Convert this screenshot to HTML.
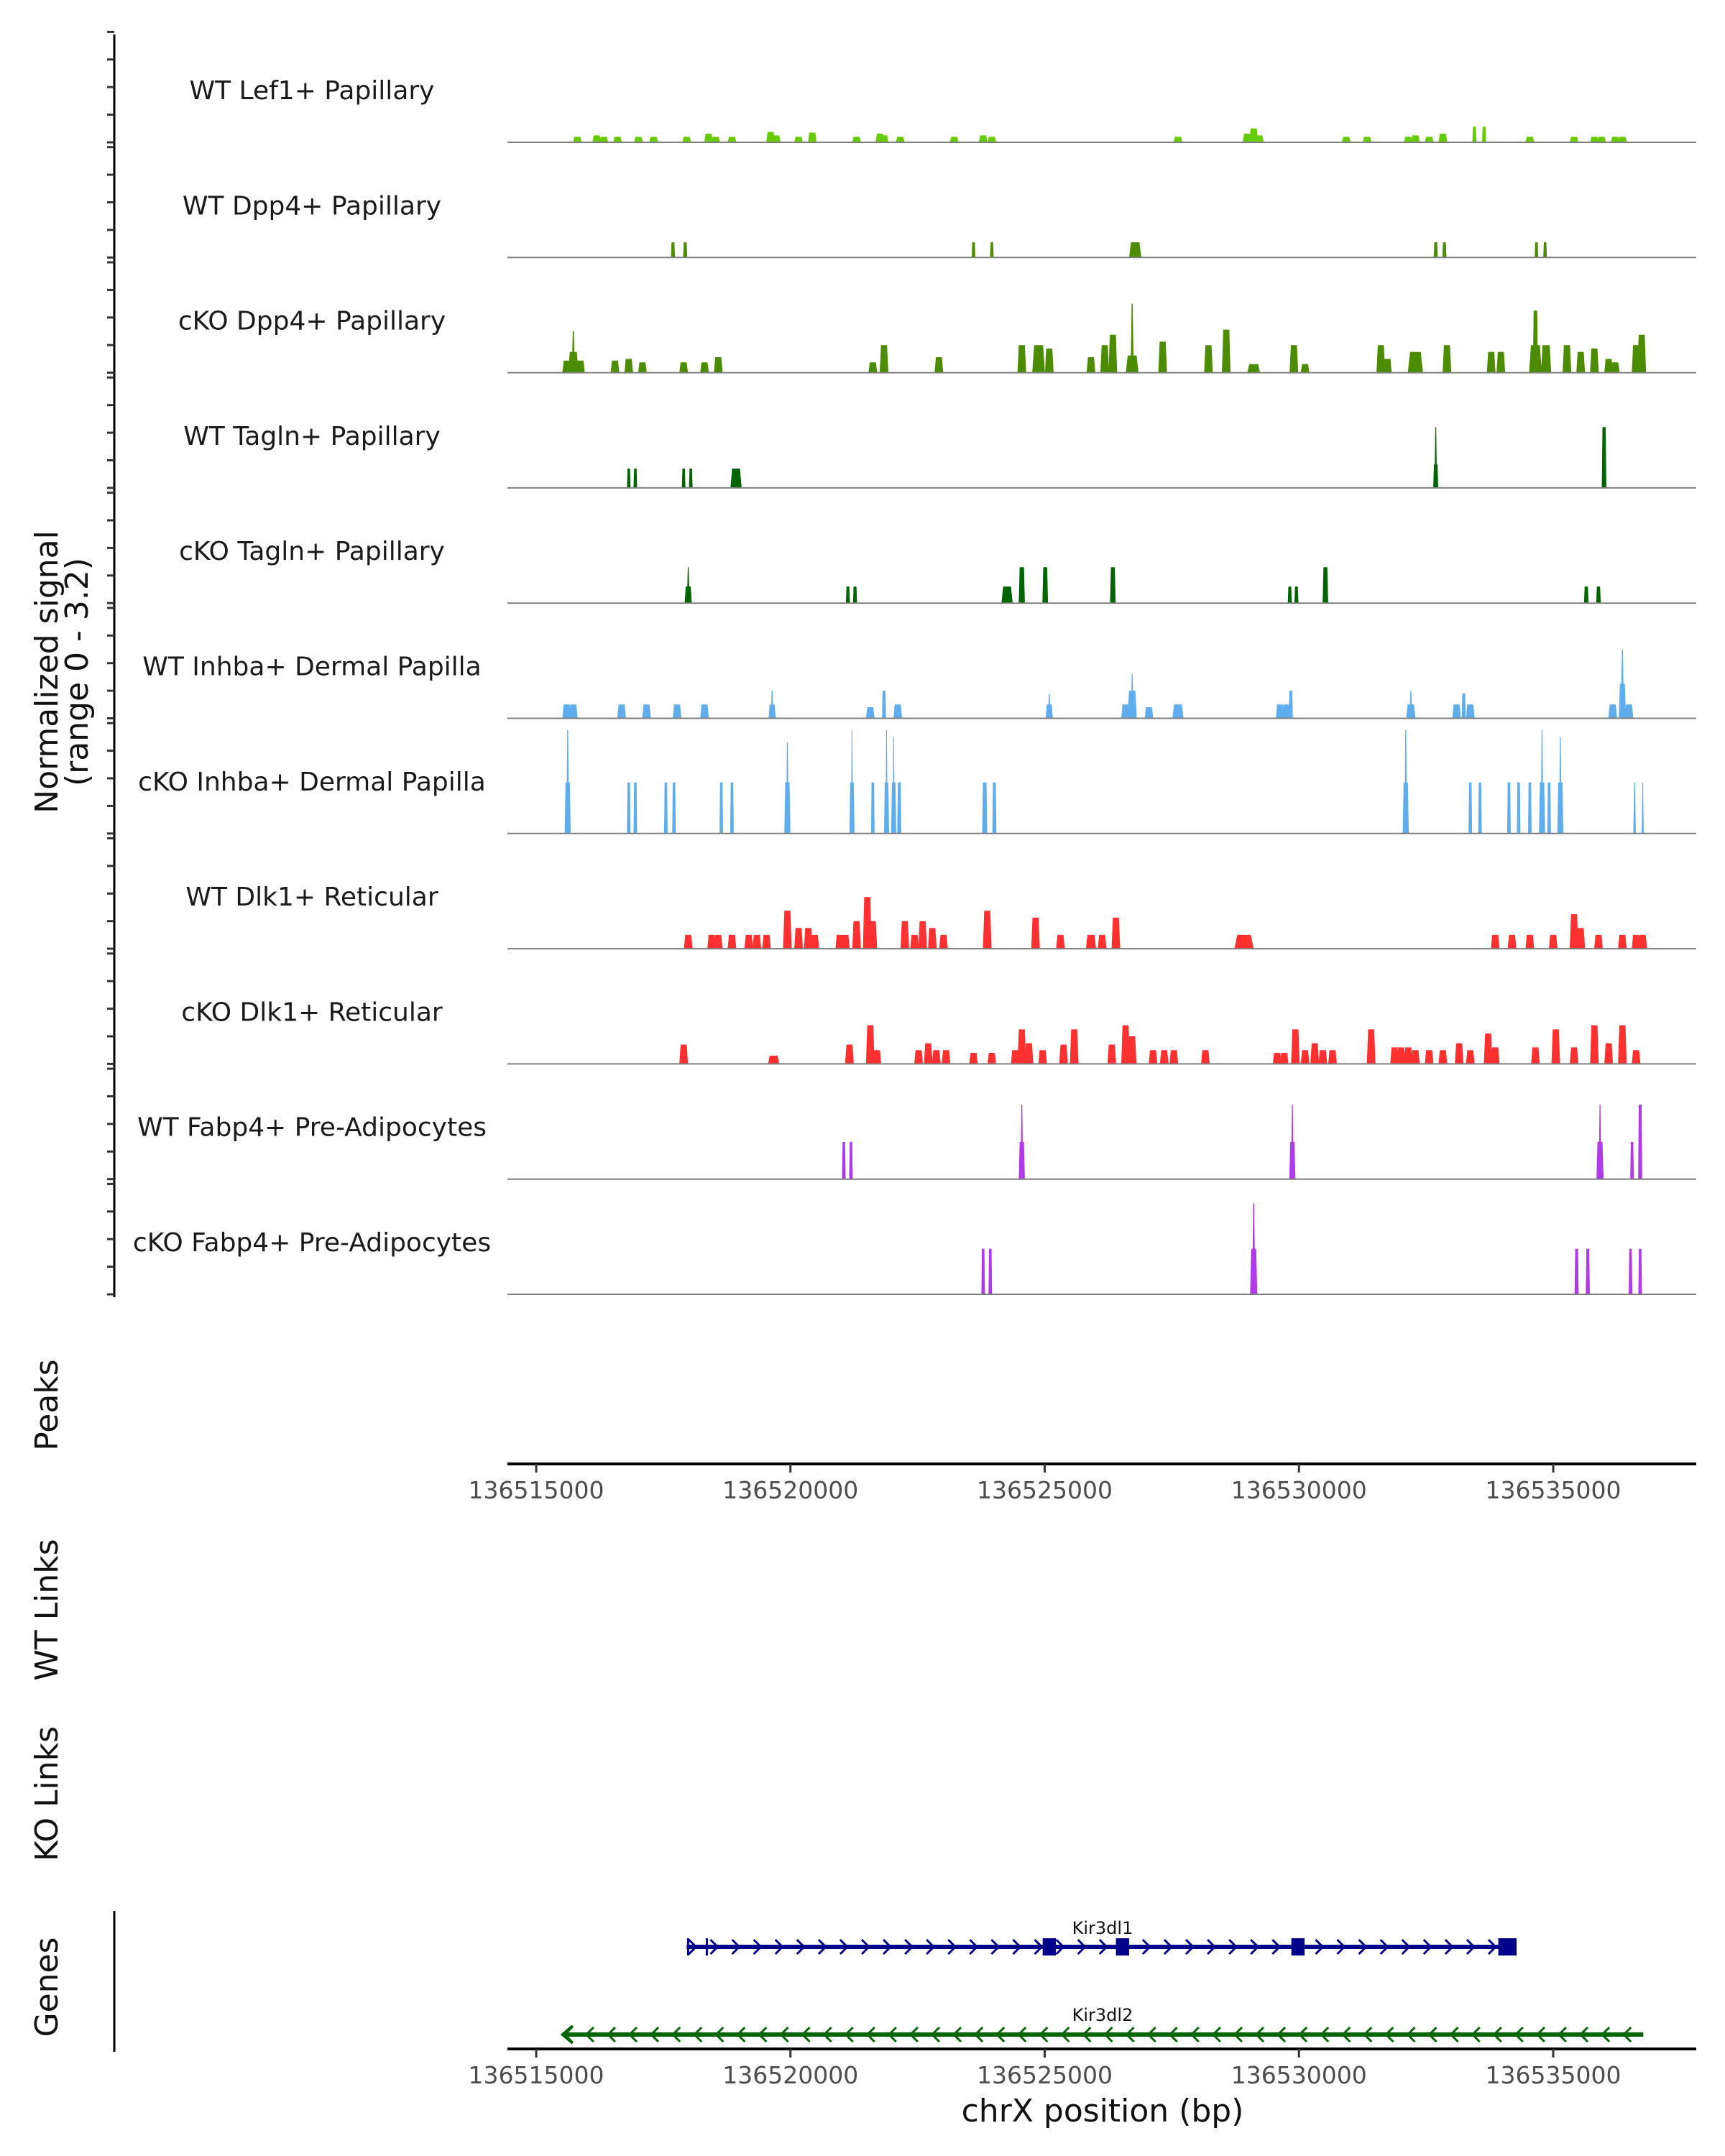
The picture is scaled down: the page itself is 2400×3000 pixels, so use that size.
<!DOCTYPE html>
<html><head><meta charset="utf-8">
<style>
html,body{margin:0;padding:0;background:#fff;}
svg{display:block;font-family:"DejaVu Sans","Liberation Sans",sans-serif;}
</style></head>
<body>
<svg id="chart" width="2400" height="3000" viewBox="0 0 2400 3000" xmlns="http://www.w3.org/2000/svg">
<g id="tracks"></g>
<g id="axes"></g>
<g id="genes"></g>
<text transform="translate(80,935) rotate(-90)" text-anchor="middle" font-size="44" fill="#111">Normalized signal</text>
<text transform="translate(122,935) rotate(-90)" text-anchor="middle" font-size="44" fill="#111">(range 0 - 3.2)</text>
<text transform="translate(80,1955) rotate(-90)" text-anchor="middle" font-size="44" fill="#111">Peaks</text>
<text transform="translate(80,2240) rotate(-90)" text-anchor="middle" font-size="44" fill="#111">WT Links</text>
<text transform="translate(80,2496) rotate(-90)" text-anchor="middle" font-size="44" fill="#111">KO Links</text>
<text transform="translate(80,2765) rotate(-90)" text-anchor="middle" font-size="44" fill="#111">Genes</text>
<text x="1534" y="2952" text-anchor="middle" font-size="44" fill="#111">chrX position (bp)</text>
</svg>
<script>
const NS="http://www.w3.org/2000/svg";
const trackNames=["WT Lef1+ Papillary","WT Dpp4+ Papillary","cKO Dpp4+ Papillary","WT Tagln+ Papillary","cKO Tagln+ Papillary","WT Inhba+ Dermal Papilla","cKO Inhba+ Dermal Papilla","WT Dlk1+ Reticular","cKO Dlk1+ Reticular","WT Fabp4+ Pre-Adipocytes","cKO Fabp4+ Pre-Adipocytes"];
const trackColors=["#66cc00","#4c8c00","#4c8c00","#006400","#006400","#5fadec","#5fadec","#ff3030","#ff3030","#b03ae8","#b03ae8"];
const lef1WT=[[515.81,.16],[516.19,.2],[516.33,.16],[516.60,.16],[517.01,.16],[517.31,.16],[517.96,.16],[518.39,.25],[518.53,.16],[518.85,.16],[519.61,.3],[519.72,.2],[520.16,.16],[520.43,.28],[521.30,.16],[521.76,.25],[521.84,.2],[522.16,.16],[523.22,.16],[523.79,.2],[523.96,.16],[527.62,.16],[528.98,.25],[529.11,.4],[529.22,.2],[530.93,.16],[531.34,.16],[532.15,.16],[532.29,.2],[532.56,.16],[532.83,.25],[533.45,.45,.08],[533.64,.45,.08],[534.54,.16],[535.41,.16],[535.81,.16],[535.95,.16],[536.22,.16],[536.36,.16]];
const dpp4WT=[[517.69,.44,.08],[517.93,.44,.08],[523.60,.44,.07],[523.96,.44,.07],[526.78,.44,.24],[532.69,.44,.08],[532.86,.44,.08],[534.67,.44,.07],[534.84,.44,.07]];
const dpp4KO=[[515.60,.35],[515.73,1.2,.06],[515.73,.6,.2],[515.87,.35],[516.55,.35],[516.82,.4],[517.09,.3],[517.90,.3],[518.31,.3],[518.58,.45],[521.62,.3],[521.84,.8],[522.92,.45],[524.55,.8],[524.88,.8,.25],[525.09,.7],[525.91,.45],[526.18,.8],[526.34,1.1],[526.72,2.0,.06],[526.72,.5,.25],[527.32,.9],[528.22,.8],[528.57,1.25],[529.11,.25,.25],[529.90,.8],[530.12,.25],[531.61,.8],[531.74,.4],[532.29,.6,.3],[532.91,.8],[533.78,.6],[533.97,.6],[534.65,1.8,.1],[534.65,.8,.25],[534.86,.8,.2],[535.27,.8],[535.54,.6],[535.81,.7],[536.09,.4],[536.22,.3],[536.63,.8],[536.74,1.1]];
const taglnWT=[[516.82,.56,.07],[516.95,.56,.07],[517.90,.56,.07],[518.04,.56,.07],[518.93,.56,.22],[532.69,.68,.1],[532.69,1.76,.05],[536.00,1.76,.09]];
const taglnKO=[[517.99,.48,.14],[517.99,1.04,.05],[521.13,.48,.08],[521.27,.48,.08],[524.26,.48,.22],[524.55,1.04,.12],[525.01,1.04,.11],[526.34,1.04,.11],[529.82,.48,.08],[529.95,.48,.08],[530.52,1.04,.11],[535.65,.48,.09],[535.89,.48,.09]];
const inhbaWT=[[515.60,.4],[515.73,.4],[516.68,.4],[517.17,.4],[517.77,.4],[518.31,.4],[519.64,.4,.14],[519.64,.8,.05],[521.57,.32],[521.84,.8,.08],[522.11,.4],[525.09,.4,.14],[525.09,.72,.05],[526.59,.4],[526.72,.8,.18],[526.72,1.28,.05],[527.05,.32],[527.62,.4,.22],[529.63,.4],[529.76,.4],[529.84,.8,.08],[532.20,.4,.18],[532.20,.8,.05],[533.10,.4],[533.24,.72,.08],[533.37,.4],[536.17,.4],[536.36,1.0,.14],[536.36,2.0,.06],[536.49,.4]];
const inhbaKO=[[515.62,1.48,.12],[515.62,3.0,.05],[516.82,1.48,.07],[516.95,1.48,.07],[517.55,1.48,.07],[517.71,1.48,.07],[518.64,1.48,.07],[518.85,1.48,.07],[519.94,1.48,.12],[519.94,2.64,.05],[521.21,1.48,.1],[521.21,3.0,.04],[521.62,1.48,.07],[521.89,1.48,.1],[521.89,3.0,.04],[522.03,1.48,.1],[522.03,2.8,.04],[522.14,1.48,.08],[523.82,1.48,.1],[524.01,1.48,.08],[532.10,1.48,.12],[532.10,3.0,.05],[533.37,1.48,.07],[533.56,1.48,.07],[534.13,1.48,.07],[534.32,1.48,.07],[534.54,1.48,.07],[534.78,1.48,.12],[534.78,3.0,.05],[534.92,1.48,.07],[535.14,1.48,.12],[535.14,2.8,.05],[536.60,1.48,.05],[536.76,1.48,.04]];
const dlk1WT=[[517.99,.4],[518.45,.4],[518.58,.4],[518.85,.4],[519.18,.4],[519.34,.4],[519.53,.4],[519.94,1.1],[520.16,.6],[520.35,.6],[520.48,.4],[520.97,.4],[521.08,.4],[521.30,.8],[521.51,1.5],[521.62,.8],[522.25,.8],[522.44,.4],[522.60,.8],[522.79,.6],[523.01,.4],[523.87,1.1],[524.82,.9],[525.31,.4],[525.91,.4,.2],[526.13,.4],[526.40,.9],[528.92,.4,.38],[533.86,.4],[534.19,.4],[534.54,.4],[535.00,.4],[535.41,1.0],[535.54,.6],[535.89,.4],[536.36,.4],[536.63,.4],[536.76,.4]];
const dlk1KO=[[517.90,.56],[519.67,.24,.22],[521.16,.56],[521.57,1.12],[521.70,.4],[522.52,.4],[522.71,.6],[522.87,.4],[523.06,.4],[523.60,.32],[523.96,.32],[524.42,.4],[524.55,1.0],[524.69,.6],[524.96,.4],[525.37,.56],[525.58,1.0],[526.32,.56],[526.59,1.12],[526.72,.8],[527.13,.4],[527.35,.4],[527.54,.4],[528.16,.4],[529.57,.32],[529.71,.32],[529.93,1.0],[530.12,.4],[530.31,.6],[530.47,.4],[530.66,.4],[531.42,1.0],[531.88,.48],[532.01,.48],[532.15,.48],[532.29,.4],[532.56,.4],[532.83,.4],[533.15,.6],[533.37,.4],[533.72,.88],[533.86,.48],[534.65,.48],[535.05,1.0],[535.41,.48],[535.81,1.12],[536.09,.6],[536.36,1.12],[536.63,.4]];
const fabp4WT=[[521.05,1.08,.07],[521.19,1.08,.07],[524.55,1.08,.12],[524.55,2.16,.05],[529.87,1.08,.12],[529.87,2.16,.05],[535.92,1.08,.14],[535.92,2.16,.05],[536.55,1.08,.07],[536.71,2.16,.08]];
const fabp4KO=[[523.79,1.32,.07],[523.93,1.32,.07],[529.11,1.32,.14],[529.11,2.64,.06],[535.46,1.32,.08],[535.68,1.32,.08],[536.52,1.32,.07],[536.71,1.32,.07]];
const trackData=[lef1WT,dpp4WT,dpp4KO,taglnWT,taglnKO,inhbaWT,inhbaKO,dlk1WT,dlk1KO,fabp4WT,fabp4KO];
const tickValues=[136515000,136520000,136525000,136530000,136535000];
const tickLabels=["136515000","136520000","136525000","136530000","136535000"];
const geneNames=["Kir3dl1","Kir3dl2"];
const geneStarts=[517.96,515.52];
const geneEnds=[534.27,536.77];
const geneStrands=[1,-1];
const kir3dl1Exons=[[525.09,.26],[526.53,.26],[529.98,.26],[534.10,.36]];

const X0=746, PXKB=70.75, AX_L=706, AX_R=2360;
function xs(kb){return X0+(kb-515)*PXKB;}
function xbp(bp){return xs(bp/1000-136000);}
const BASE0=198, TSTEP=160.3, UNIT=48;
function ys(i,v){return BASE0+i*TSTEP-v*UNIT;}
function mk(tag,attrs,parent){const e=document.createElementNS(NS,tag);for(const k in attrs)e.setAttribute(k,attrs[k]);parent.appendChild(e);return e;}

const tg=document.getElementById('tracks');
trackNames.forEach((nm,i)=>{
  const g=mk('g',{},tg);
  
  
  const base=ys(i,0);
  const t=mk('text',{x:434,y:base-60,'text-anchor':'middle','font-size':36,fill:'#1a1a1a'},g);
  t.textContent=nm;
  
  
  trackData[i].forEach(p=>{
    const w=(p[2]||0.17)/2;
    const x=xs(p[0]), hw=w*PXKB, top=ys(i,p[1]);
    const k=p[2]&&p[2]<0.07?0.35:0.7;
    const pts=[[x-hw,base],[x-hw*k,top],[x+hw*k,top],[x+hw,base]].map(a=>a.join(',')).join(' ');
    const poly=mk('polygon',{points:pts,fill:trackColors[i]},g);
    
    
  });
  const ln=mk('line',{x1:AX_L,x2:AX_R,y1:base,y2:base,stroke:'#7f7f7f','stroke-width':2},g);
  
  
});

const ag=document.getElementById('axes');
const ya=mk('line',{x1:159,x2:159,y1:48,y2:1805,stroke:'#000','stroke-width':3},ag);


for(let i=0;i<11;i++){for(let k=0;k<5;k++){
  const y=ys(i,0)-k*0.8*UNIT;
  const tk=mk('line',{x1:149,x2:159,y1:y,y2:y,stroke:'#333','stroke-width':3},ag);
  
  
}}
function xAxis(y,name){
  const g=mk('g',{},ag);
  
  
  mk('line',{x1:AX_L,x2:AX_R,y1:y,y2:y,stroke:'#000','stroke-width':4},g);
  tickValues.forEach((v,j)=>{
    const x=xbp(v);
    const tk=mk('line',{x1:x,x2:x,y1:y,y2:y+12,stroke:'#333','stroke-width':3},g);
    
    
    const t=mk('text',{x:x,y:y+48,'text-anchor':'middle','font-size':33,fill:'#4d4d4d'},g);
    t.textContent=tickLabels[j];
    
    
  });
}
xAxis(2037,'peaks-x-axis');
xAxis(2851,'genes-x-axis');
const ga=mk('line',{x1:159,x2:159,y1:2659,y2:2855,stroke:'#000','stroke-width':3},ag);



const gg=document.getElementById('genes');
const geneY=[2709,2831], geneCol=["#00008b","#006400"], labY=[2691,2812];
geneNames.forEach((nm,i)=>{
  const g=mk('g',{},gg);
  
  
  const y=geneY[i], c=geneCol[i], x1=xs(geneStarts[i]), x2=xs(geneEnds[i]);
  mk('line',{x1:x1,x2:x2,y1:y,y2:y,stroke:c,'stroke-width':6},g);
  const step=0.425*PXKB;
  const dir=geneStrands[i];
  for(let x=x1+8;x<x2-4;x+=step){
    const p=dir>0?`M${x-5},${y-10} L${x+5},${y} L${x-5},${y+10}`:`M${x+5},${y-10} L${x-5},${y} L${x+5},${y+10}`;
    mk('path',{d:p,stroke:c,'stroke-width':3,fill:'none'},g);
  }
  if(dir<0){mk('path',{d:`M${x1+14},${y-12} L${x1},${y} L${x1+14},${y+12}`,stroke:c,'stroke-width':4,fill:'none'},g);}
  else{mk('line',{x1:x1+2,x2:x1+2,y1:y-12,y2:y+12,stroke:c,'stroke-width':3},g);
       mk('line',{x1:x1+28,x2:x1+28,y1:y-12,y2:y+12,stroke:c,'stroke-width':3},g);}
  const t=mk('text',{x:1534,y:labY[i],'text-anchor':'middle','font-size':24,fill:'#111'},g);
  t.textContent=nm;
  
  
});
kir3dl1Exons.forEach(e=>{
  const x=xs(e[0]), w=e[1]*PXKB;
  const r=mk('rect',{x:x-w/2,y:2697,width:w,height:24,fill:'#00008b'},gg);
  
  
});
</script>
</body></html>
